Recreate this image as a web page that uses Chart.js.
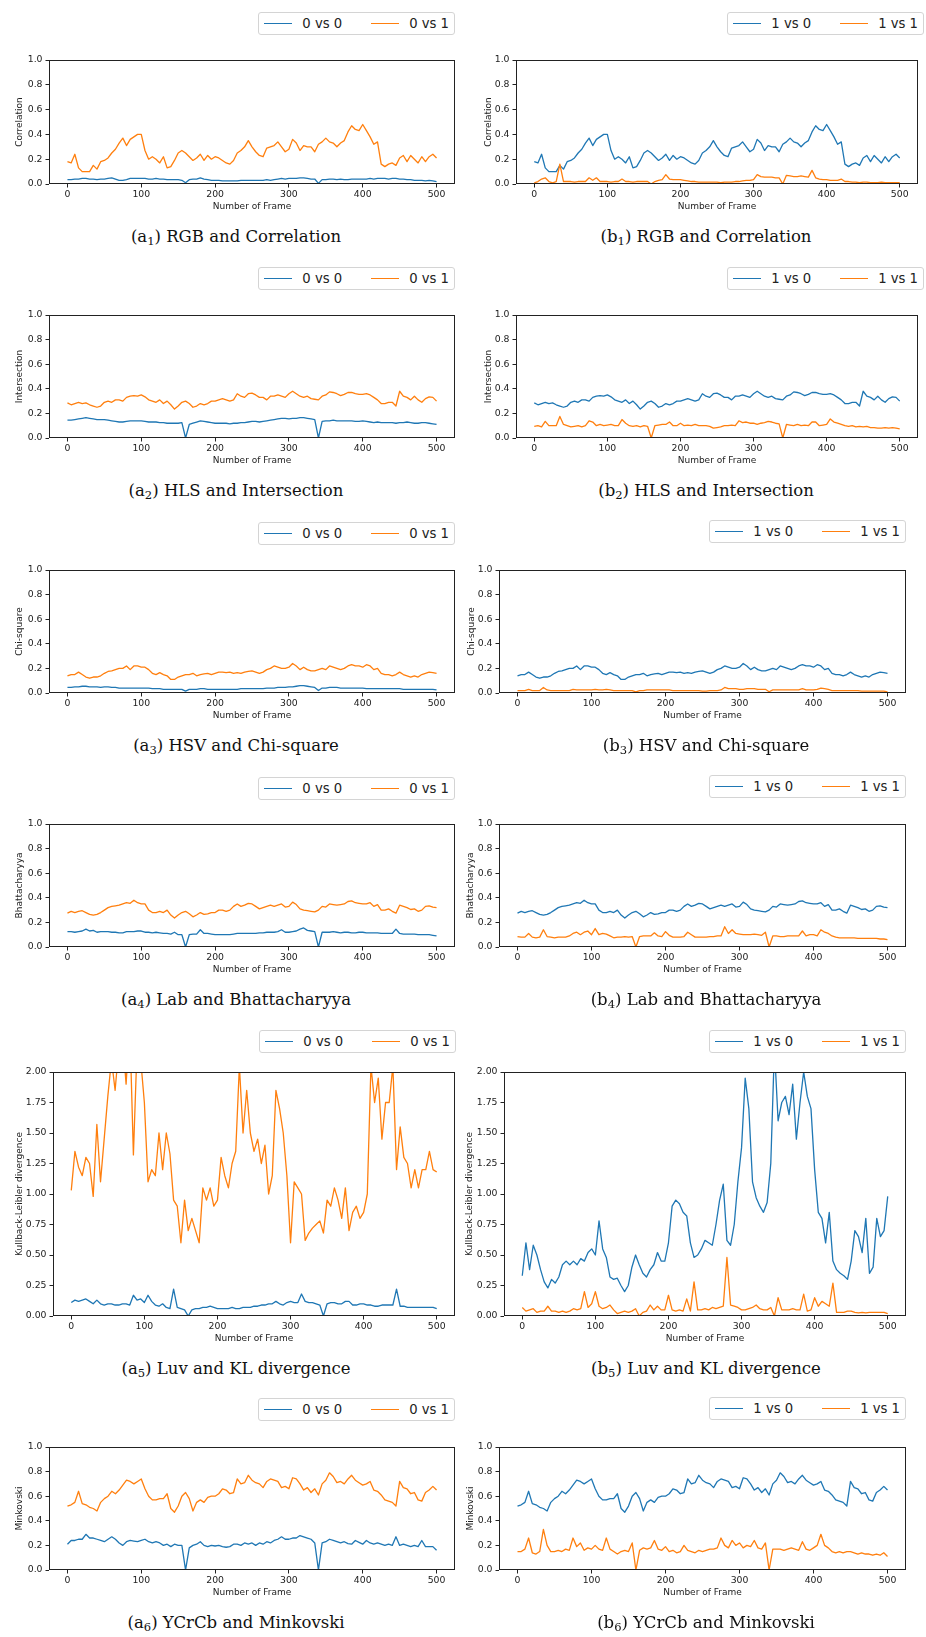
<!DOCTYPE html>
<html>
<head>
<meta charset="utf-8">
<script src="https://cdn.jsdelivr.net/npm/chart.js@4.4.1/dist/chart.umd.min.js"></script>
<style>
body { margin: 0; background: #fff; }
#page { position: relative; width: 926px; height: 1637px; overflow: hidden; background: #fff; }
#page canvas { position: absolute; }
.legend { position: absolute; height: 21px; border: 1px solid #d4d4d4; border-radius: 3px; display: flex; align-items: center;
  padding: 0 5px; font-family: "DejaVu Sans"; font-size: 13.2px; color: #222; background: #fff; white-space: nowrap; }
.legend .item { display: flex; align-items: center; }
.legend .item + .item { margin-left: 29px; }
.legend .h { display: inline-block; width: 28px; height: 1.5px; margin-right: 10px; }
.caption { position: absolute; width: 460px; text-align: center; line-height: 20px; font-family: "DejaVu Serif"; font-size: 16.5px; color: #111; }
.caption sub { font-size: 70%; vertical-align: -0.3em; line-height: 0; }
</style>
</head>
<body>
<div id="page"></div>
<script>
// frames sampled every 5
const frames = [0,5,10,15,20,25,30,35,40,45,50,55,60,65,70,75,80,85,90,95,100,105,110,115,120,125,130,135,140,145,150,155,160,165,170,175,180,185,190,195,200,205,210,215,220,225,230,235,240,245,250,255,260,265,270,275,280,285,290,295,300,305,310,315,320,325,330,335,340,345,350,355,360,365,370,375,380,385,390,395,400,405,410,415,420,425,430,435,440,445,450,455,460,465,470,475,480,485,490,495,500];
const xTicks = [0, 100, 200, 300, 400, 500];
const yTicks = [0, 0.2, 0.4, 0.6, 0.8, 1.0];
const klTicks = [0, 0.25, 0.5, 0.75, 1.0, 1.25, 1.5, 1.75, 2.0];

// RGB / Correlation
const corrSame0 = [.035,.035,.04,.04,.045,.045,.04,.04,.035,.04, .04,.045,.05,.04,.03,.03,.035,.045,.045,.045, .045,.045,.04,.04,.045,.04,.04,.035,.035,.035, .035,.03,.01,.035,.04,.04,.05,.04,.035,.03, .03,.03,.025,.025,.025,.025,.025,.03,.03,.03, .03,.03,.03,.03,.035,.03,.035,.04,.045,.04, .045,.045,.045,.05,.05,.045,.04,.04,.005,.035, .035,.04,.04,.035,.04,.035,.035,.04,.04,.04, .04,.04,.045,.04,.045,.045,.045,.04,.045,.045, .04,.04,.035,.035,.03,.03,.03,.025,.03,.025, .02];
const corrCross = [.18,.17,.24,.13,.10,.10,.10,.15,.12,.18, .19,.21,.25,.28,.33,.37,.31,.36,.38,.40, .40,.27,.20,.22,.20,.17,.22,.13,.14,.19, .25,.27,.25,.22,.19,.21,.24,.19,.23,.20, .22,.21,.19,.17,.16,.19,.25,.27,.30,.35, .30,.26,.23,.22,.29,.30,.31,.34,.30,.26, .28,.36,.33,.27,.31,.30,.30,.26,.32,.34, .37,.34,.33,.30,.33,.35,.42,.47,.44,.43, .48,.43,.38,.32,.34,.16,.14,.16,.17,.15, .21,.23,.18,.23,.20,.17,.22,.18,.22,.24, .21];
const corrSame1 = [.01,.02,.04,.05,.02,.01,.02,.16,.02,.02, .02,.015,.02,.02,.02,.05,.03,.05,.02,.02, .02,.015,.02,.02,.04,.02,.02,.015,.02,.02, .02,.02,0,.02,.03,.035,.075,.04,.035,.035, .035,.03,.025,.02,.02,.015,.015,.015,.015,.015, .015,.01,.015,.015,.015,.02,.02,.025,.03,.03, .035,.075,.06,.055,.055,.055,.05,.05,0,.07, .065,.06,.06,.065,.06,.055,.11,.05,.04,.035, .035,.03,.03,.03,.04,.02,.02,.015,.015,.01, .015,.015,.01,.01,.01,.015,.01,.01,.01,.01, .01];

// HLS / Intersection
const interSame0 = [.145,.145,.15,.155,.16,.165,.16,.155,.15,.15, .15,.145,.14,.135,.13,.13,.135,.14,.14,.14, .14,.135,.13,.13,.13,.125,.125,.12,.12,.12, .12,.125,0,.11,.12,.13,.14,.135,.13,.125, .12,.12,.12,.12,.115,.12,.12,.125,.125,.13, .135,.135,.13,.135,.14,.145,.15,.155,.16,.16, .155,.16,.16,.165,.165,.16,.155,.15,0,.135, .14,.14,.145,.14,.14,.14,.14,.14,.135,.135, .14,.135,.13,.125,.13,.125,.125,.125,.125,.12, .125,.125,.13,.125,.12,.12,.125,.125,.12,.115, .11];
const interCross = [.285,.27,.28,.29,.28,.285,.27,.26,.25,.26, .29,.30,.29,.31,.31,.30,.33,.34,.345,.34, .35,.335,.31,.30,.29,.31,.28,.30,.27,.235, .26,.29,.30,.28,.25,.26,.28,.27,.28,.30, .30,.31,.32,.31,.30,.31,.36,.34,.33,.36, .365,.35,.33,.33,.31,.34,.34,.35,.34,.33, .36,.38,.36,.34,.33,.34,.32,.315,.31,.34, .35,.375,.37,.36,.345,.355,.37,.37,.36,.355, .355,.36,.35,.33,.31,.28,.28,.29,.29,.26, .38,.34,.33,.31,.34,.31,.29,.32,.335,.33, .30];
const interSame1 = [.095,.10,.09,.135,.10,.10,.10,.175,.11,.10, .09,.095,.10,.09,.10,.14,.13,.10,.11,.10, .105,.11,.10,.10,.15,.12,.10,.095,.10,.09, .10,.095,0,.10,.105,.11,.11,.13,.10,.10, .12,.10,.105,.10,.11,.10,.10,.10,.095,.08, .085,.09,.10,.10,.105,.10,.14,.125,.13,.12, .12,.11,.12,.125,.135,.13,.12,.115,0,.11, .105,.10,.11,.10,.105,.10,.13,.13,.10,.105, .11,.155,.13,.12,.11,.10,.095,.10,.09,.095, .09,.095,.085,.085,.08,.08,.085,.08,.085,.08, .075];

// HSV / Chi-square
const chiSame0 = [.045,.045,.05,.05,.055,.055,.05,.05,.05,.045, .05,.05,.045,.045,.04,.04,.04,.04,.04,.04, .04,.04,.04,.035,.035,.035,.03,.03,.03,.03, .03,.03,.015,.03,.03,.03,.035,.035,.03,.03, .03,.03,.03,.03,.03,.03,.03,.035,.035,.035, .035,.035,.035,.035,.04,.04,.04,.045,.045,.045, .05,.05,.055,.06,.06,.055,.05,.045,.02,.04, .04,.045,.045,.045,.04,.04,.04,.04,.04,.04, .04,.035,.035,.035,.035,.035,.035,.035,.035,.035, .035,.03,.03,.03,.03,.03,.03,.03,.03,.03, .025];
const chiCross = [.14,.15,.15,.17,.15,.13,.12,.13,.13,.14, .16,.175,.18,.19,.20,.20,.22,.19,.22,.22, .21,.21,.19,.16,.15,.165,.15,.14,.11,.11, .13,.14,.15,.15,.16,.14,.15,.155,.16,.15, .16,.17,.17,.165,.17,.16,.165,.16,.17,.175, .18,.17,.16,.17,.19,.20,.22,.21,.20,.20, .21,.24,.22,.19,.21,.19,.18,.18,.19,.20, .19,.22,.21,.20,.19,.20,.22,.23,.22,.22, .21,.23,.22,.19,.20,.16,.15,.15,.14,.15, .17,.15,.14,.13,.14,.13,.15,.16,.17,.165, .16];
const chiSame1 = [.02,.02,.02,.03,.02,.02,.02,.045,.025,.02, .02,.02,.02,.02,.02,.03,.025,.025,.025,.025, .025,.03,.025,.025,.03,.025,.02,.02,.02,.02, .02,.02,.01,.02,.02,.025,.025,.025,.025,.025, .025,.025,.02,.02,.02,.02,.02,.02,.02,.02, .015,.015,.02,.02,.02,.025,.045,.035,.035,.035, .03,.03,.035,.035,.035,.03,.03,.03,.01,.025, .025,.025,.025,.025,.025,.025,.025,.035,.025,.025, .025,.03,.04,.035,.03,.02,.02,.02,.02,.02, .02,.02,.02,.015,.015,.015,.015,.015,.015,.015, .01];

// Lab / Bhattacharyya
const bhatSame0 = [.125,.125,.12,.125,.13,.145,.13,.135,.12,.125, .125,.125,.12,.12,.115,.115,.125,.125,.125,.13, .13,.12,.12,.115,.12,.115,.11,.11,.105,.12, .10,.10,0,.10,.105,.105,.14,.11,.11,.105, .10,.10,.10,.10,.10,.105,.11,.11,.11,.11, .11,.11,.115,.115,.12,.12,.12,.125,.14,.12, .12,.125,.13,.145,.155,.135,.13,.125,0,.12, .12,.12,.125,.12,.115,.12,.12,.115,.115,.12, .12,.115,.115,.115,.115,.11,.11,.11,.11,.145, .11,.105,.105,.105,.105,.10,.10,.10,.10,.095, .09];
const bhatCross = [.275,.29,.28,.29,.295,.28,.265,.26,.265,.28, .30,.32,.33,.335,.34,.35,.36,.355,.38,.36, .35,.35,.30,.28,.28,.29,.28,.30,.26,.235, .26,.28,.29,.27,.245,.26,.28,.265,.27,.28, .28,.30,.30,.29,.30,.33,.35,.33,.34,.355, .35,.33,.31,.32,.33,.34,.33,.34,.35,.325, .33,.365,.345,.31,.30,.295,.29,.285,.30,.33, .325,.35,.345,.34,.345,.35,.37,.375,.36,.355, .35,.35,.36,.33,.345,.30,.30,.31,.29,.275, .34,.33,.32,.305,.31,.29,.30,.33,.335,.325, .32];
const bhatSame1 = [.085,.08,.08,.11,.08,.075,.08,.14,.085,.08, .075,.08,.08,.08,.09,.11,.12,.10,.12,.13, .10,.15,.10,.11,.105,.09,.075,.08,.08,.085, .08,.085,0,.085,.09,.09,.09,.115,.09,.085, .125,.095,.08,.08,.08,.085,.12,.10,.08,.08, .08,.08,.085,.085,.09,.09,.165,.11,.14,.11, .105,.10,.10,.10,.105,.10,.095,.12,0,.09, .09,.085,.085,.09,.09,.09,.09,.13,.09,.10, .10,.09,.14,.12,.11,.09,.08,.075,.075,.075, .075,.075,.07,.07,.07,.07,.07,.07,.065,.065, .06];

// Luv / KL divergence
const klSame0 = [.11,.13,.12,.13,.14,.12,.10,.13,.10,.09, .10,.10,.09,.09,.10,.10,.09,.17,.13,.14, .11,.17,.12,.09,.08,.10,.07,.06,.22,.07, .06,.05,0,.05,.06,.06,.07,.07,.08,.07, .06,.06,.06,.06,.07,.06,.06,.07,.07,.07, .08,.08,.09,.09,.10,.10,.12,.10,.09,.11, .12,.11,.11,.18,.12,.11,.11,.10,.09,0, .10,.11,.11,.10,.10,.12,.12,.09,.09,.10, .10,.09,.09,.08,.08,.09,.09,.09,.09,.22, .08,.08,.07,.07,.07,.07,.07,.07,.07,.07, .06];
const kl01 = [1.03,1.35,1.22,1.15,1.30,1.25,0.98,1.57,1.10,1.45, 1.80,2.10,1.85,2.20,2.30,1.90,2.40,1.32,2.20,2.10, 1.75,1.10,1.20,1.15,1.50,1.20,1.50,1.33,0.95,0.90, 0.60,0.95,0.70,0.80,0.70,0.60,1.05,0.95,1.05,0.90, 0.95,1.30,1.15,1.05,1.25,1.35,2.05,1.50,1.85,1.50, 1.35,1.45,1.25,1.40,1.00,1.15,1.85,1.70,1.50,1.15, 0.60,1.10,1.05,1.00,0.62,0.68,0.72,0.75,0.78,0.68, 0.95,0.90,1.05,0.95,0.80,1.05,0.70,0.85,0.90,0.80, 0.85,1.00,2.05,1.75,1.95,1.45,1.75,1.75,2.05,1.20, 1.55,1.30,1.25,1.05,1.20,1.05,1.20,1.20,1.35,1.20, 1.18];
const kl10 = [.33,.60,.38,.58,.50,.38,.28,.23,.30,.27, .32,.42,.45,.42,.45,.42,.47,.45,.52,.55, .50,.78,.55,.48,.32,.30,.31,.25,.20,.25, .40,.50,.42,.35,.32,.38,.42,.52,.45,.45, .60,.90,.95,.92,.85,.82,.60,.48,.50,.55, .62,.60,.58,.75,.95,1.08,.62,.58,.75,1.10, 1.38,1.95,1.70,1.10,.97,.90,.85,.93,1.25,2.20, 1.60,1.75,1.80,1.65,1.90,1.45,1.75,2.00,1.80,1.70, 1.20,.85,.80,.60,.85,.45,.38,.35,.33,.30, .45,.70,.65,.52,.80,.35,.40,.80,.65,.70, .98];
const klSame1 = [.07,.04,.05,.06,.03,.04,.04,.08,.04,.04, .03,.04,.03,.04,.06,.05,.06,.20,.07,.10, .20,.08,.06,.07,.09,.05,.02,.03,.04,.03, .04,.06,0,.03,.04,.09,.05,.08,.05,.05, .17,.05,.04,.05,.04,.14,.04,.28,.05,.05, .06,.05,.07,.06,.07,.08,.48,.09,.08,.07, .05,.05,.06,.07,.09,.06,.05,.05,.07,0, .15,.05,.05,.05,.06,.05,.05,.18,.04,.05, .15,.08,.12,.10,.08,.27,.03,.03,.03,.04, .04,.03,.025,.03,.025,.03,.03,.03,.03,.03, .02];

// YCrCb / Minkovski
const minkSame0 = [.21,.24,.24,.25,.25,.29,.26,.26,.25,.24, .23,.25,.27,.25,.22,.20,.23,.24,.235,.23, .24,.25,.23,.22,.23,.22,.20,.21,.19,.21, .20,.20,0,.18,.20,.21,.23,.20,.19,.20, .195,.20,.19,.185,.19,.21,.21,.20,.22,.21, .22,.20,.22,.21,.23,.22,.24,.25,.27,.25, .25,.26,.26,.28,.27,.26,.25,.22,0,.22, .23,.25,.24,.23,.22,.23,.215,.21,.24,.225, .21,.24,.22,.21,.22,.21,.20,.21,.20,.27, .20,.21,.20,.19,.20,.19,.24,.19,.19,.19, .16];
const minkCross = [.52,.53,.55,.64,.54,.53,.51,.50,.48,.55, .58,.60,.64,.62,.65,.69,.73,.72,.70,.72, .74,.66,.60,.57,.57,.58,.58,.62,.50,.47, .52,.60,.63,.58,.48,.55,.57,.55,.59,.60, .60,.62,.66,.65,.62,.63,.74,.70,.71,.77, .73,.71,.70,.67,.72,.74,.73,.72,.67,.68, .66,.75,.74,.70,.65,.67,.63,.66,.61,.70, .73,.79,.76,.71,.72,.70,.74,.77,.73,.71, .69,.70,.72,.65,.64,.61,.57,.56,.55,.52, .72,.67,.66,.62,.63,.57,.56,.63,.65,.68, .65];
const minkSame1 = [.15,.15,.17,.26,.14,.13,.15,.33,.20,.15, .15,.16,.15,.17,.16,.26,.19,.22,.16,.18, .17,.20,.17,.16,.26,.17,.15,.13,.15,.16, .15,.22,0,.16,.18,.17,.18,.24,.17,.16, .19,.15,.16,.14,.15,.20,.16,.15,.14,.16, .15,.16,.17,.17,.18,.26,.20,.18,.24,.20, .22,.18,.20,.19,.24,.18,.17,.22,0,.17, .17,.17,.16,.17,.18,.17,.16,.23,.17,.16, .18,.20,.29,.20,.18,.15,.14,.15,.14,.15, .15,.14,.13,.14,.13,.13,.12,.13,.12,.14, .11];

const BLUE = '#1f77b4';
const ORANGE = '#ff7f0e';

// one entry per subplot: where the plot box sits on the page and what goes in it
const panels = [
  { tag: 'a', n: 1, name: 'RGB and Correlation', yTitle: 'Correlation', labels: ['0 vs 0', '0 vs 1'], series: [corrSame0, corrCross], ticks: yTicks, dec: 1, box: [49, 60, 455, 184], yTitleX: 19.3, leg: [12, 455] },
  { tag: 'b', n: 1, name: 'RGB and Correlation', yTitle: 'Correlation', labels: ['1 vs 0', '1 vs 1'], series: [corrCross, corrSame1], ticks: yTicks, dec: 1, box: [516, 60, 918, 184], yTitleX: 488, leg: [12, 924] },
  { tag: 'a', n: 2, name: 'HLS and Intersection', yTitle: 'Intersection', labels: ['0 vs 0', '0 vs 1'], series: [interSame0, interCross], ticks: yTicks, dec: 1, box: [49, 315, 455, 438], yTitleX: 19.3, leg: [267, 455] },
  { tag: 'b', n: 2, name: 'HLS and Intersection', yTitle: 'Intersection', labels: ['1 vs 0', '1 vs 1'], series: [interCross, interSame1], ticks: yTicks, dec: 1, box: [516, 315, 918, 438], yTitleX: 488, leg: [267, 924] },
  { tag: 'a', n: 3, name: 'HSV and Chi-square', yTitle: 'Chi-square', labels: ['0 vs 0', '0 vs 1'], series: [chiSame0, chiCross], ticks: yTicks, dec: 1, box: [49, 570, 455, 693], yTitleX: 19.3, leg: [522, 455] },
  { tag: 'b', n: 3, name: 'HSV and Chi-square', yTitle: 'Chi-square', labels: ['1 vs 0', '1 vs 1'], series: [chiCross, chiSame1], ticks: yTicks, dec: 1, box: [499, 570, 906, 693], yTitleX: 471.3, leg: [520, 906] },
  { tag: 'a', n: 4, name: 'Lab and Bhattacharyya', yTitle: 'Bhattacharyya', labels: ['0 vs 0', '0 vs 1'], series: [bhatSame0, bhatCross], ticks: yTicks, dec: 1, box: [49, 824, 455, 947], yTitleX: 19.3, leg: [777, 455] },
  { tag: 'b', n: 4, name: 'Lab and Bhattacharyya', yTitle: 'Bhattacharyya', labels: ['1 vs 0', '1 vs 1'], series: [bhatCross, bhatSame1], ticks: yTicks, dec: 1, box: [499, 824, 906, 947], yTitleX: 470.3, leg: [775, 906] },
  { tag: 'a', n: 5, name: 'Luv and KL divergence', yTitle: 'Kullback-Leibler divergence', labels: ['0 vs 0', '0 vs 1'], series: [klSame0, kl01], ticks: klTicks, dec: 2, box: [53, 1072, 455, 1316], yTitleX: 19.3, leg: [1030, 456] },
  { tag: 'b', n: 5, name: 'Luv and KL divergence', yTitle: 'Kullback-Leibler divergence', labels: ['1 vs 0', '1 vs 1'], series: [kl10, klSame1], ticks: klTicks, dec: 2, box: [504, 1072, 906, 1316], yTitleX: 469.7, leg: [1030, 906] },
  { tag: 'a', n: 6, name: 'YCrCb and Minkovski', yTitle: 'Minkovski', labels: ['0 vs 0', '0 vs 1'], series: [minkSame0, minkCross], ticks: yTicks, dec: 1, box: [49, 1447, 455, 1570], yTitleX: 19.3, leg: [1398, 455] },
  { tag: 'b', n: 6, name: 'YCrCb and Minkovski', yTitle: 'Minkovski', labels: ['1 vs 0', '1 vs 1'], series: [minkCross, minkSame1], ticks: yTicks, dec: 1, box: [499, 1447, 906, 1570], yTitleX: 470.3, leg: [1397, 906] }
];

// black frame round the plot, drawn over the lines like matplotlib spines
const spines = {
  id: 'spines',
  afterDraw(chart) {
    const { ctx, chartArea: a } = chart;
    ctx.save();
    ctx.strokeStyle = '#222';
    ctx.lineWidth = 1;
    ctx.strokeRect(a.left + 0.5, a.top + 0.5, a.right - a.left - 1, a.bottom - a.top - 1);
    ctx.restore();
  }
};

const page = document.getElementById('page');
const tickFont = { family: 'DejaVu Sans', size: 9.3 };
const titleFont = { family: 'DejaVu Sans', size: 9 };
const PAD_TOP = 10, PAD_RIGHT = 12, X_AXIS_H = 28;

panels.forEach(p => {
  const [L, T, R, B] = p.box;
  const left = Math.round(p.yTitleX - titleFont.size * 1.2 / 2);
  const yW = L - left;
  const w = R + PAD_RIGHT - left;
  const h = PAD_TOP + (B - T) + X_AXIS_H;

  const canvas = document.createElement('canvas');
  canvas.width = w; canvas.height = h;
  canvas.style.left = left + 'px';
  canvas.style.top = (T - PAD_TOP) + 'px';
  canvas.style.width = w + 'px';
  canvas.style.height = h + 'px';
  page.appendChild(canvas);

  const yMax = p.ticks[p.ticks.length - 1];
  new Chart(canvas.getContext('2d'), {
    type: 'line',
    data: {
      datasets: p.series.map((vals, i) => ({
        label: p.labels[i],
        data: frames.map((f, k) => ({ x: f, y: vals[k] })),
        borderColor: i === 0 ? BLUE : ORANGE,
        borderWidth: 1.3,
        pointRadius: 0,
        tension: 0,
        borderJoinStyle: 'round',
        order: i === 0 ? 1 : 0
      }))
    },
    options: {
      responsive: false,
      animation: false,
      devicePixelRatio: 1,
      layout: { padding: { top: PAD_TOP, right: PAD_RIGHT, left: 0, bottom: 0 } },
      plugins: { legend: { display: false }, tooltip: { enabled: false } },
      scales: {
        x: {
          type: 'linear', min: -25, max: 525,
          afterBuildTicks: s => { s.ticks = xTicks.map(v => ({ value: v })); },
          afterFit: s => { s.height = X_AXIS_H; },
          ticks: { font: tickFont, color: '#222', padding: 2, maxRotation: 0 },
          grid: { drawOnChartArea: false, drawTicks: true, tickLength: 3.5, color: '#222' },
          border: { display: false },
          title: { display: true, text: 'Number of Frame', font: titleFont, color: '#222', padding: 0 }
        },
        y: {
          min: 0, max: yMax,
          afterBuildTicks: s => { s.ticks = p.ticks.map(v => ({ value: v })); },
          afterFit: s => { s.width = yW; },
          ticks: { font: tickFont, color: '#222', padding: 3, callback: v => Number(v).toFixed(p.dec) },
          grid: { drawOnChartArea: false, drawTicks: true, tickLength: 3.5, color: '#222' },
          border: { display: false },
          title: { display: true, text: p.yTitle, font: titleFont, color: '#222', padding: 0 }
        }
      }
    },
    plugins: [spines]
  });

  // legend box above the plot
  const leg = document.createElement('div');
  leg.className = 'legend';
  leg.style.top = p.leg[0] + 'px';
  leg.style.right = (926 - p.leg[1]) + 'px';
  leg.innerHTML = p.labels.map((lab, i) =>
    `<span class="item"><span class="h" style="background:${i === 0 ? BLUE : ORANGE}"></span>${lab}</span>`).join('');
  page.appendChild(leg);

  // caption under the plot
  const cap = document.createElement('div');
  cap.className = 'caption';
  const cx = p.tag === 'a' ? 236 : 706;
  cap.style.left = (cx - 230) + 'px';
  cap.style.top = (B + 53 - 10) + 'px';
  cap.innerHTML = `(${p.tag}<sub>${p.n}</sub>) ${p.name}`;
  page.appendChild(cap);
});
</script>
</body>
</html>
